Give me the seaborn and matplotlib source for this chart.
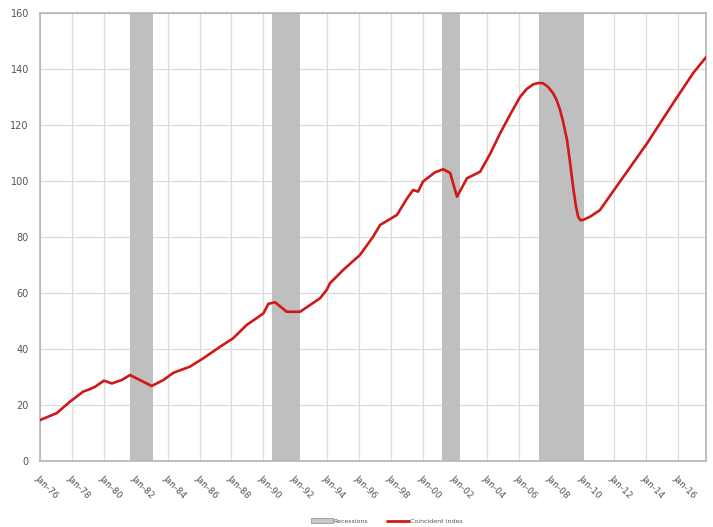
import numpy as np
import pandas as pd
import matplotlib
matplotlib.use("Agg")
import matplotlib.pyplot as plt
from matplotlib.patches import Patch
from matplotlib.lines import Line2D
import seaborn as sns

# coincident index (decimal year, index value)
year = [1976.0, 1976.5, 1977.05, 1977.88, 1978.71, 1979.1, 1979.45, 1980.01,
        1980.5, 1981.12, 1981.64, 1982.27, 1983.0, 1983.73, 1984.36, 1985.4,
        1986.24, 1987.29, 1988.1, 1988.96, 1990.0, 1990.31, 1990.73, 1991.47,
        1992.3, 1992.93, 1993.55, 1993.97, 1994.18, 1995.0, 1996.06, 1996.88,
        1997.32, 1998.38, 1999.01, 1999.39, 1999.7, 2000.01, 2000.76, 2001.27,
        2001.71, 2002.14, 2002.77, 2003.59, 2004.2, 2004.84, 2005.5, 2006.09,
        2006.5, 2006.91, 2007.25, 2007.54, 2007.85, 2008.16, 2008.38, 2008.6,
        2008.8, 2009.04, 2009.23, 2009.42, 2009.58, 2009.73, 2009.88, 2010.04,
        2010.5, 2011.1, 2012.36, 2014.06, 2015.69, 2016.94, 2017.75]
index_value = [14.6, 15.8, 17.1, 21.2, 24.8, 25.6, 26.5, 28.7,
               27.7, 28.9, 30.7, 28.9, 26.8, 28.9, 31.5, 33.7,
               36.7, 40.8, 43.8, 48.6, 52.7, 56.1, 56.7, 53.3,
               53.3, 55.7, 58.1, 61.1, 63.5, 68.2, 73.6, 80.1,
               84.3, 87.9, 93.8, 96.8, 96.2, 99.8, 103.1, 104.2,
               102.9, 94.4, 101.0, 103.3, 109.5, 117.0, 124.0, 130.0,
               132.8, 134.5, 135.0, 134.9, 133.6, 131.4, 129.0, 125.4,
               121.0, 114.6, 106.5, 97.9, 91.5, 87.3, 86.0, 86.1,
               87.3, 89.6, 99.8, 113.5, 127.8, 138.5, 144.2]

# shaded recession periods
rec_start = [1981.64, 1990.53, 2001.18, 2007.3]
rec_end = [1983.07, 1992.3, 2002.33, 2010.13]

tick_years = list(range(1976, 2017, 2))
tick_labels = ["Jan-%02d" % (y % 100) for y in tick_years]

df = pd.DataFrame({"year": year, "Coincident index": index_value})

sns.set_style("whitegrid")
fig = plt.figure(figsize=(7.13, 5.27), dpi=100)
ax = fig.add_axes([40 / 713, 66 / 527, 666 / 713, 448 / 527])

for s, e in zip(rec_start, rec_end):
    ax.axvspan(s, e, color="#bfbfbf", lw=0, zorder=1)

sns.lineplot(data=df, x="year", y="Coincident index", color="#d01818",
             linewidth=1.9, ax=ax, zorder=3)

ax.set_xlim(1976.0, 2017.75)
ax.set_ylim(0, 160)
ax.set_yticks(range(0, 161, 20))
ax.set_xticks(tick_years)
ax.set_xticklabels(tick_labels, rotation=-45, ha="left", va="top",
                   rotation_mode="anchor")
ax.tick_params(axis="x", labelsize=6.5, colors="#555555", pad=9, length=0)
ax.tick_params(axis="y", labelsize=7, colors="#555555", pad=8, length=0)
ax.set_xlabel("")
ax.set_ylabel("")
ax.grid(True, color="#dcdcdc", linewidth=0.9, zorder=0)
ax.set_axisbelow(True)
for sp in ax.spines.values():
    sp.set_color("#b5b5b5")
    sp.set_linewidth(1.2)

handles = [Patch(facecolor="#c8c8c8", edgecolor="#999999", linewidth=0.6),
           Line2D([0], [0], color="#d01818", linewidth=2)]
fig.legend(handles, ["Recessions", "Coincident index"], loc="center",
           bbox_to_anchor=(387 / 713, 1 - 521 / 527), ncol=2, frameon=False,
           fontsize=4.5, handlelength=3.5, handleheight=0.9, columnspacing=3,
           handletextpad=0.2, labelcolor="#555555")

fig.savefig("out.png", dpi=100)
